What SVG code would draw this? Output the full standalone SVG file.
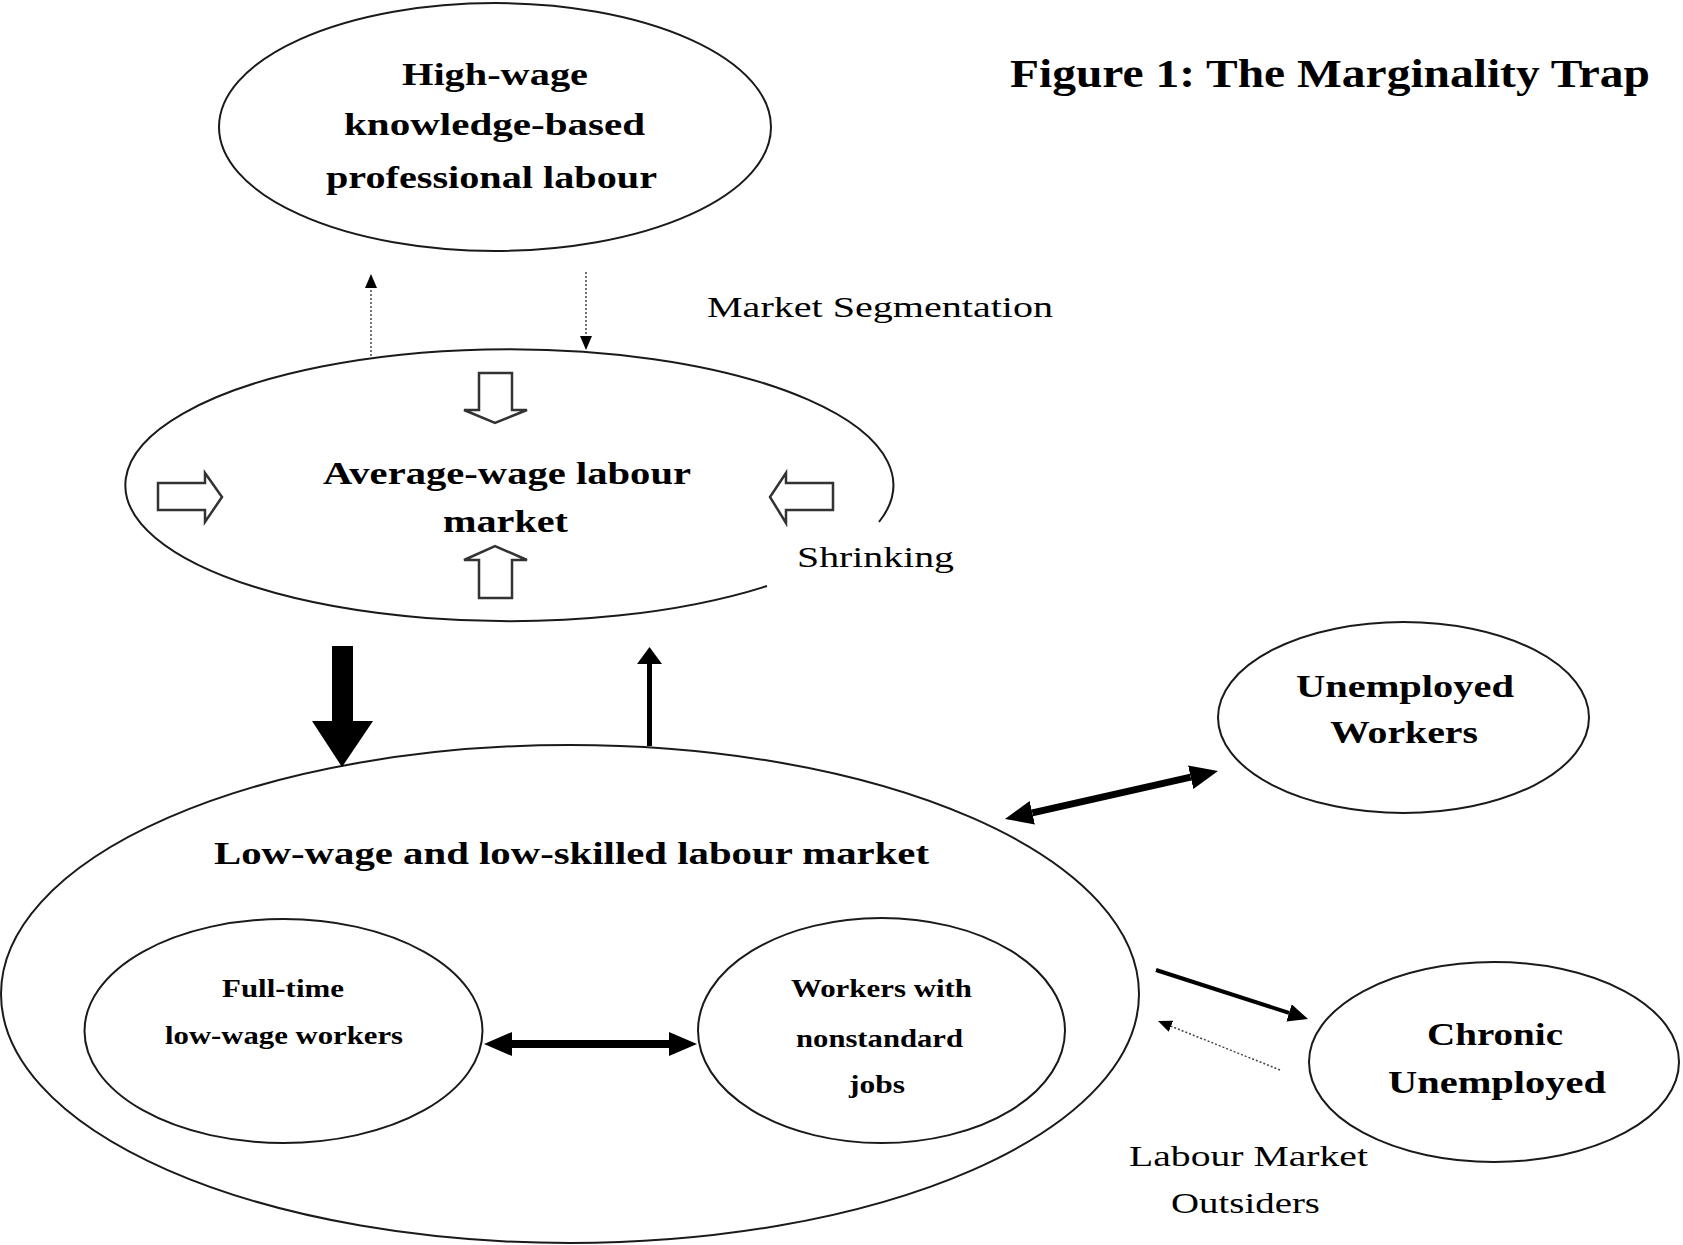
<svg xmlns="http://www.w3.org/2000/svg" width="1683" height="1245" viewBox="0 0 1683 1245">
<style>
.ell{fill:none;stroke:#1a1a1a;stroke-width:2}
.b{font-family:"Liberation Serif","Times New Roman",serif;font-weight:bold;fill:#000}
.r{font-family:"Liberation Serif","Times New Roman",serif;fill:#000}
.hol{fill:#fff;stroke:#333;stroke-width:2.5;stroke-linejoin:miter}
.dot{stroke:#444;stroke-width:1.5;stroke-dasharray:2 2;fill:none}
</style>
<defs>
<marker id="hb" viewBox="0 0 28 24" refX="0" refY="12" markerWidth="28" markerHeight="24" markerUnits="userSpaceOnUse" orient="auto-start-reverse">
<path d="M0,0 L28,12 L0,24 z" fill="#000"/>
</marker>
<marker id="hm" viewBox="0 0 20 18" refX="0" refY="9" markerWidth="20" markerHeight="18" markerUnits="userSpaceOnUse" orient="auto">
<path d="M0,0 L20,9 L0,18 z" fill="#000"/>
</marker>
<marker id="hs" viewBox="0 0 14 12" refX="0" refY="6" markerWidth="14" markerHeight="12" markerUnits="userSpaceOnUse" orient="auto">
<path d="M0,0 L14,6 L0,12 z" fill="#000"/>
</marker>
</defs>
<rect width="1683" height="1245" fill="#fff"/>

<text class="b" x="1010" y="87" font-size="40" textLength="640" lengthAdjust="spacingAndGlyphs">Figure 1: The Marginality Trap</text>

<g id="high-wage">
<ellipse class="ell" cx="495" cy="127" rx="276" ry="124"/>
<text class="b" x="402" y="85" font-size="31" textLength="186" lengthAdjust="spacingAndGlyphs">High-wage</text>
<text class="b" x="344" y="135" font-size="31" textLength="301" lengthAdjust="spacingAndGlyphs">knowledge-based</text>
<text class="b" x="326" y="188" font-size="31" textLength="331" lengthAdjust="spacingAndGlyphs">professional labour</text>
</g>

<g id="average-wage">
<path class="ell" d="M879,522 A384,136 0 1 0 767,586"/>
<text class="b" x="323" y="484" font-size="32" textLength="368" lengthAdjust="spacingAndGlyphs">Average-wage labour</text>
<text class="b" x="443" y="532" font-size="32" textLength="125" lengthAdjust="spacingAndGlyphs">market</text>
<polygon class="hol" points="479,373 512,373 512,410 527,410 495,423 464,410 479,410"/>
<polygon class="hol" points="479,598 512,598 512,560 527,560 495,546 464,560 479,560"/>
<polygon class="hol" points="158,483 205,483 205,473 222,497 205,522 205,510 158,510"/>
<polygon class="hol" points="833,483 786,483 786,473 770,497 786,523 786,510 833,510"/>
</g>

<g id="low-wage">
<ellipse class="ell" cx="570" cy="994" rx="569" ry="249"/>
<text class="b" x="214" y="864" font-size="32" textLength="715" lengthAdjust="spacingAndGlyphs">Low-wage and low-skilled labour market</text>
</g>

<g id="full-time">
<ellipse class="ell" cx="283.5" cy="1031" rx="199" ry="112"/>
<text class="b" x="222" y="997" font-size="26" textLength="122" lengthAdjust="spacingAndGlyphs">Full-time</text>
<text class="b" x="165" y="1044" font-size="26" textLength="238" lengthAdjust="spacingAndGlyphs">low-wage workers</text>
</g>

<g id="nonstandard">
<ellipse class="ell" cx="881.5" cy="1030.5" rx="183.5" ry="112.5"/>
<text class="b" x="791" y="997" font-size="26" textLength="181" lengthAdjust="spacingAndGlyphs">Workers with</text>
<text class="b" x="796" y="1047" font-size="26" textLength="167" lengthAdjust="spacingAndGlyphs">nonstandard</text>
<text class="b" x="849" y="1093" font-size="26" textLength="56" lengthAdjust="spacingAndGlyphs">jobs</text>
</g>

<g id="unemployed">
<ellipse class="ell" cx="1403.5" cy="717.5" rx="185.5" ry="95.5"/>
<text class="b" x="1296" y="697" font-size="32" textLength="218" lengthAdjust="spacingAndGlyphs">Unemployed</text>
<text class="b" x="1330" y="743" font-size="32" textLength="148" lengthAdjust="spacingAndGlyphs">Workers</text>
</g>

<g id="chronic">
<ellipse class="ell" cx="1494" cy="1062" rx="185" ry="100"/>
<text class="b" x="1427" y="1045" font-size="32" textLength="136" lengthAdjust="spacingAndGlyphs">Chronic</text>
<text class="b" x="1388" y="1093" font-size="32" textLength="218" lengthAdjust="spacingAndGlyphs">Unemployed</text>
</g>

<g id="labels">
<text class="r" x="707" y="317" font-size="29" textLength="346" lengthAdjust="spacingAndGlyphs">Market Segmentation</text>
<text class="r" x="797" y="567" font-size="29" textLength="157" lengthAdjust="spacingAndGlyphs">Shrinking</text>
<text class="r" x="1129" y="1166" font-size="29" textLength="239" lengthAdjust="spacingAndGlyphs">Labour Market</text>
<text class="r" x="1171" y="1213" font-size="29" textLength="149" lengthAdjust="spacingAndGlyphs">Outsiders</text>
</g>

<g id="connectors">
<line class="dot" x1="371" y1="356" x2="371" y2="288" marker-end="url(#hs)"/>
<line class="dot" x1="586" y1="272" x2="586" y2="336" marker-end="url(#hs)"/>
<polygon points="332,646 353,646 353,721 373,721 342,767 312,721 332,721" fill="#000"/>
<line x1="649.5" y1="746" x2="649.5" y2="663" stroke="#000" stroke-width="5"/>
<polygon points="637,664 662,664 649.5,647" fill="#000"/>
<line x1="1032.3" y1="812.8" x2="1190.7" y2="777.2" stroke="#000" stroke-width="7" marker-start="url(#hb)" marker-end="url(#hb)"/>
<line x1="512" y1="1044" x2="669" y2="1044" stroke="#000" stroke-width="8" marker-start="url(#hb)" marker-end="url(#hb)"/>
<line x1="1156" y1="970" x2="1289" y2="1012.9" stroke="#000" stroke-width="4" marker-end="url(#hm)"/>
<line class="dot" x1="1280" y1="1070" x2="1171" y2="1026.2" stroke="#666" marker-end="url(#hs)"/>
</g>
</svg>
